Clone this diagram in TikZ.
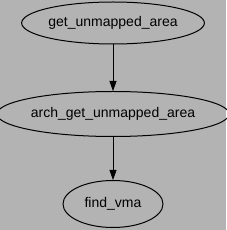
\documentclass[tikz,border=0pt]{standalone}
\usepackage{fontspec}
\setmainfont{Liberation Sans}
\usetikzlibrary{arrows.meta,shapes.geometric}
\definecolor{bg}{RGB}{179,179,179}
\begin{document}
\begin{tikzpicture}[x=1pt,y=1pt,
  fn/.style={draw=black,line width=1pt,ellipse,inner sep=0pt,font=\fontsize{14}{16}\selectfont},
  edge/.style={line width=0.8pt,-{Triangle[length=10pt,width=7pt]}}]
\fill[bg] (0,0) rectangle (226,230);
\useasboundingbox (0,0) rectangle (226,230);
\node[fn,minimum width=180pt,minimum height=42pt] (a) at (113,207) {get\_unmapped\_area};
\node[fn,minimum width=222pt,minimum height=45pt] (b) at (113,116) {arch\_get\_unmapped\_area};
\node[fn,minimum width=100pt,minimum height=47pt] (c) at (113,26) {find\_vma};
\draw[edge] (a) -- (b);
\draw[edge] (b) -- (c);
\end{tikzpicture}
\end{document}
